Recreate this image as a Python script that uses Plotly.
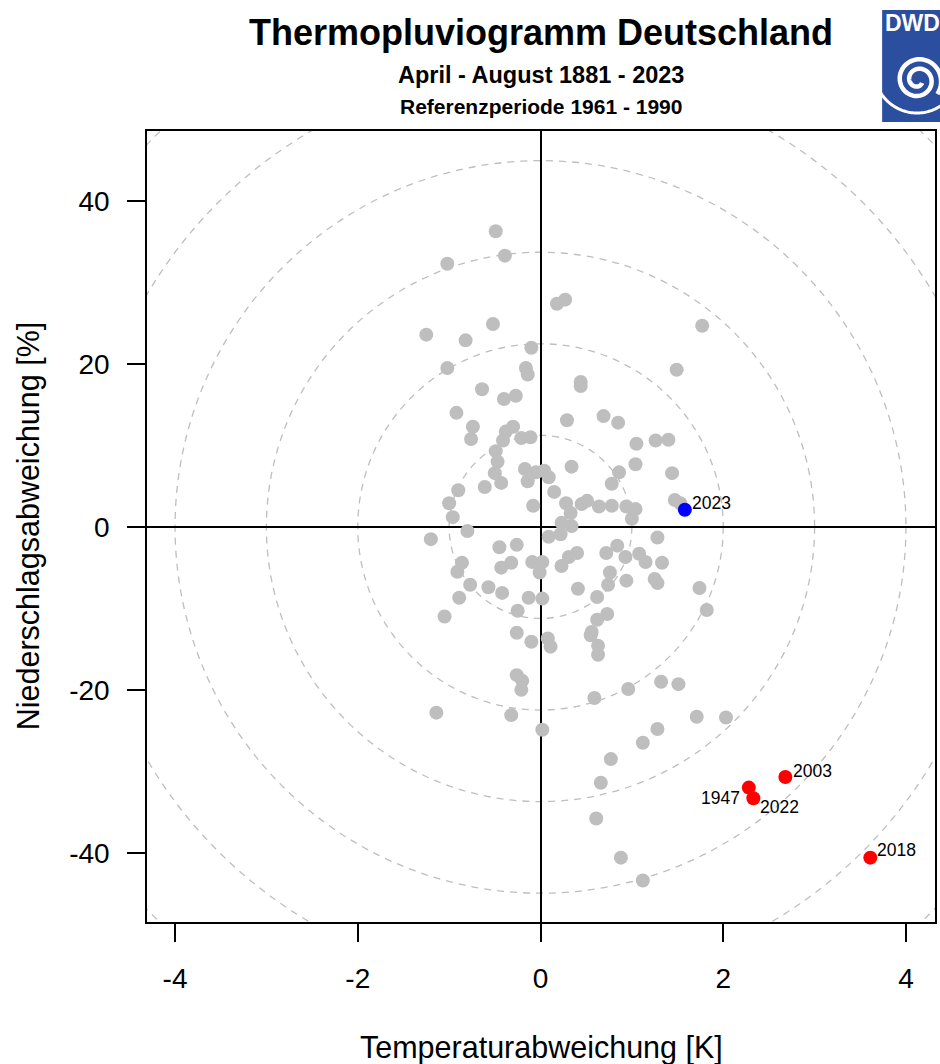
import numpy as np
import plotly.graph_objects as go

# ---------------- data ----------------
gray_temp = [
    -0.49, -0.39, -1.02, -0.52, -1.25, -0.82, -0.10, -1.02, -0.16, -0.14,
    0.18, 0.27, 1.77, 1.49, 0.44, 0.44, -0.64, -0.40, -0.27, -0.92,
    0.29, 0.69, 0.85, -0.74, -0.76, -0.30, -0.38, -0.41, -0.21, -0.11,
    1.05, 1.26, 1.40, -0.49, -0.47, -0.50, -0.43, -0.61, -0.17, -0.14,
    -0.05, 0.04, 0.09, 0.34, 1.04, 0.86, 1.44, 0.15, 0.78, 0.28,
    0.33, 0.45, 0.51, 0.64, 0.78, 0.94, 1.04, 1.00, 1.47, 1.53,
    -0.08, 0.23, 0.34, -0.90, -1.00, -0.96, -0.80, -1.20, -0.45, -0.26,
    0.09, 0.22, -0.86, -0.91, -0.43, -0.32, -0.09, 0.02, -0.01, -0.77,
    -0.57, -0.42, -0.89, -0.13, 0.02, -1.05, -0.25, -0.26, -0.10, 0.08,
    0.11, -0.26, -0.20, -0.21, -1.14, -0.32, 0.02, 1.28, 0.84, 0.72,
    0.93, 1.08, 1.15, 1.33, 0.31, 0.40, 0.23, 0.76, 0.74, 0.94,
    1.25, 1.28, 1.74, 1.82, 0.41, 0.62, 0.73, 0.62, 0.56, 0.55,
    0.63, 0.63, 1.32, 1.51, 0.96, 0.59, 1.71, 2.03, 1.28, 1.12,
    0.77, 0.66, 0.61, 0.88, 1.12,
]
gray_precip = [
    36.3, 33.3, 32.3, 24.9, 23.6, 22.9, 22.0, 19.5, 19.5, 18.7,
    27.4, 27.9, 24.7, 19.3, 17.8, 17.3, 16.9, 15.7, 16.1, 14.0,
    13.1, 13.6, 12.8, 12.3, 10.8, 12.3, 11.7, 10.6, 10.9, 11.0,
    10.2, 10.6, 10.7, 9.3, 8.0, 6.6, 5.4, 4.9, 7.1, 5.6,
    6.7, 6.9, 6.1, 7.4, 7.7, 6.7, 6.6, 4.3, 5.3, 2.9,
    1.7, 2.8, 3.2, 2.5, 2.6, 2.5, 2.2, 1.0, 3.3, 2.9,
    2.6, 0.5, 0.1, 4.5, 2.9, 1.2, -0.5, -1.5, -2.5, -2.2,
    -1.2, -0.9, -4.4, -5.5, -5.0, -4.4, -4.3, -4.3, -5.6, -7.1,
    -7.4, -8.1, -8.7, -8.7, -8.8, -11.0, -10.3, -13.0, -14.1, -13.7,
    -14.7, -18.2, -18.9, -20.0, -22.8, -23.1, -24.9, -1.3, -2.3, -3.2,
    -3.7, -3.3, -4.3, -4.4, -3.7, -3.2, -4.8, -5.6, -7.1, -6.6,
    -6.4, -6.9, -7.5, -10.2, -7.6, -8.6, -10.7, -11.4, -12.9, -13.3,
    -14.6, -15.7, -19.0, -19.3, -19.9, -21.0, -23.3, -23.4, -24.8, -26.5,
    -28.5, -31.4, -35.8, -40.6, -43.4,
]

hl_years = ["2023", "2003", "1947", "2022", "2018"]
hl_temp = [1.58, 2.68, 2.28, 2.33, 3.61]
hl_precip = [2.1, -30.7, -32.0, -33.3, -40.6]

x_ticks = [-4, -2, 0, 2, 4]
y_ticks = [-40, -20, 0, 20, 40]
ring_steps = [1, 2, 3, 4, 5, 6]

# ---------------- styles ----------------
FONT = "Liberation Sans, Arial, sans-serif"
GRAY = "#BEBEBE"
hl_colors = ["#0000FF", "#FF0000", "#FF0000", "#FF0000", "#FF0000"]
# label placement: (xanchor, xshift, yshift)
hl_label_pos = [("left", 5, 7), ("left", 6, 6), ("right", -7, -10),
                ("left", 5, -9), ("left", 5, 8)]
RING_Y_PER_K = 11.24  # ring aspect (percent per Kelvin)

W, H = 940, 1064
ML, MR, MT, MB = 147, 3, 131, 142
PW, PH = W - ML - MR, H - MT - MB


def paper(px, py):
    return (px - ML) / PW, (H - MB - py) / PH


fig = go.Figure()

fig.add_trace(go.Scatter(
    x=gray_temp, y=gray_precip, mode="markers",
    marker=dict(size=14, color=GRAY, line=dict(width=0)),
    hoverinfo="x+y", showlegend=False))

fig.add_trace(go.Scatter(
    x=hl_temp, y=hl_precip, mode="markers", text=hl_years,
    marker=dict(size=14, color=hl_colors, line=dict(width=0)),
    showlegend=False))

shapes = []
for k in ring_steps:
    shapes.append(dict(
        type="circle", xref="x", yref="y", layer="below",
        x0=-k, x1=k, y0=-k * RING_Y_PER_K, y1=k * RING_Y_PER_K,
        line=dict(color=GRAY, width=1.3, dash="7px,6px")))

annotations = []
for yr, tx, py, (anc, xs, ys) in zip(hl_years, hl_temp, hl_precip, hl_label_pos):
    annotations.append(dict(
        x=tx, y=py, xref="x", yref="y", text=yr, showarrow=False,
        xanchor=anc, yanchor="middle", xshift=xs, yshift=ys,
        font=dict(family=FONT, size=17.5, color="black")))

# titles
for txt, py, size in [("Thermopluviogramm Deutschland", 32, 36),
                      ("April - August 1881 - 2023", 75, 23.5),
                      ("Referenzperiode 1961 - 1990", 107, 21)]:
    annotations.append(dict(
        x=0.5, y=paper(0, py)[1], xref="paper", yref="paper",
        text=f"<b>{txt}</b>", showarrow=False, xanchor="center", yanchor="middle",
        font=dict(family=FONT, size=size, color="black")))

# axis titles
annotations.append(dict(
    x=0.5, y=paper(0, 1047)[1], xref="paper", yref="paper",
    text="Temperaturabweichung [K]", showarrow=False,
    xanchor="center", yanchor="middle",
    font=dict(family=FONT, size=30.5, color="black")))
annotations.append(dict(
    x=paper(28, 0)[0], y=paper(0, 526)[1], xref="paper", yref="paper",
    text="Niederschlagsabweichung [%]", showarrow=False, textangle=-90,
    xanchor="center", yanchor="middle",
    font=dict(family=FONT, size=30.5, color="black")))

# DWD logo (decoration)
lx0, ly0 = paper(884, 122)
lx1, ly1 = paper(965, 10)
shapes.append(dict(type="rect", xref="paper", yref="paper",
                   x0=lx0, x1=lx1, y0=ly0, y1=ly1,
                   fillcolor="#2C4E9E", line=dict(width=0), layer="above"))
annotations.append(dict(
    x=paper(885, 0)[0], y=paper(0, 23)[1], xref="paper", yref="paper",
    text="<b>DWD</b>", showarrow=False, xanchor="left", yanchor="middle",
    font=dict(family=FONT, size=23, color="white")))

cx, cy = 920, 80
t = np.linspace(0, 1, 160)
theta = np.pi * 0.2 + t * 2.0 * 2 * np.pi
r = 5 + 19 * t
spx = cx + r * np.cos(theta)
spy = cy + r * np.sin(theta)
pts = [paper(a, b) for a, b in zip(spx, spy)]
path = "M " + " L ".join(f"{a:.5f},{b:.5f}" for a, b in pts)
shapes.append(dict(type="path", xref="paper", yref="paper", path=path,
                   line=dict(color="white", width=4.5), layer="above"))
ang = np.linspace(np.deg2rad(150), np.deg2rad(30), 60)
apx = 919 + 43 * np.cos(ang)
apy = 70 + 43 * np.sin(ang)
pts = [paper(a, b) for a, b in zip(apx, apy)]
path = "M " + " L ".join(f"{a:.5f},{b:.5f}" for a, b in pts)
shapes.append(dict(type="path", xref="paper", yref="paper", path=path,
                   line=dict(color="white", width=3), layer="above"))

axis_common = dict(
    ticks="outside", ticklen=18, tickwidth=1.5, tickcolor="black",
    showline=True, linecolor="black", linewidth=1.5, mirror=True,
    showgrid=False, zeroline=True, zerolinecolor="black", zerolinewidth=1.5,
    tickfont=dict(family=FONT, size=28, color="black"),
)

fig.update_layout(
    width=W, height=H, autosize=False,
    margin=dict(l=ML, r=MR, t=MT, b=MB, pad=0),
    paper_bgcolor="white", plot_bgcolor="white",
    xaxis=dict(range=[-4.307, 4.318], tickvals=x_ticks,
               ticktext=[str(v) for v in x_ticks], ticklabelstandoff=13,
               **axis_common),
    yaxis=dict(range=[-48.5, 48.6], tickvals=y_ticks,
               ticktext=[str(v) for v in y_ticks], ticklabelstandoff=12,
               **axis_common),
    shapes=shapes, annotations=annotations, showlegend=False,
)

fig.write_html(
    "out.html",
    config={"displayModeBar": False},
    post_script="document.body.style.margin='0';document.body.style.overflow='hidden';",
)
